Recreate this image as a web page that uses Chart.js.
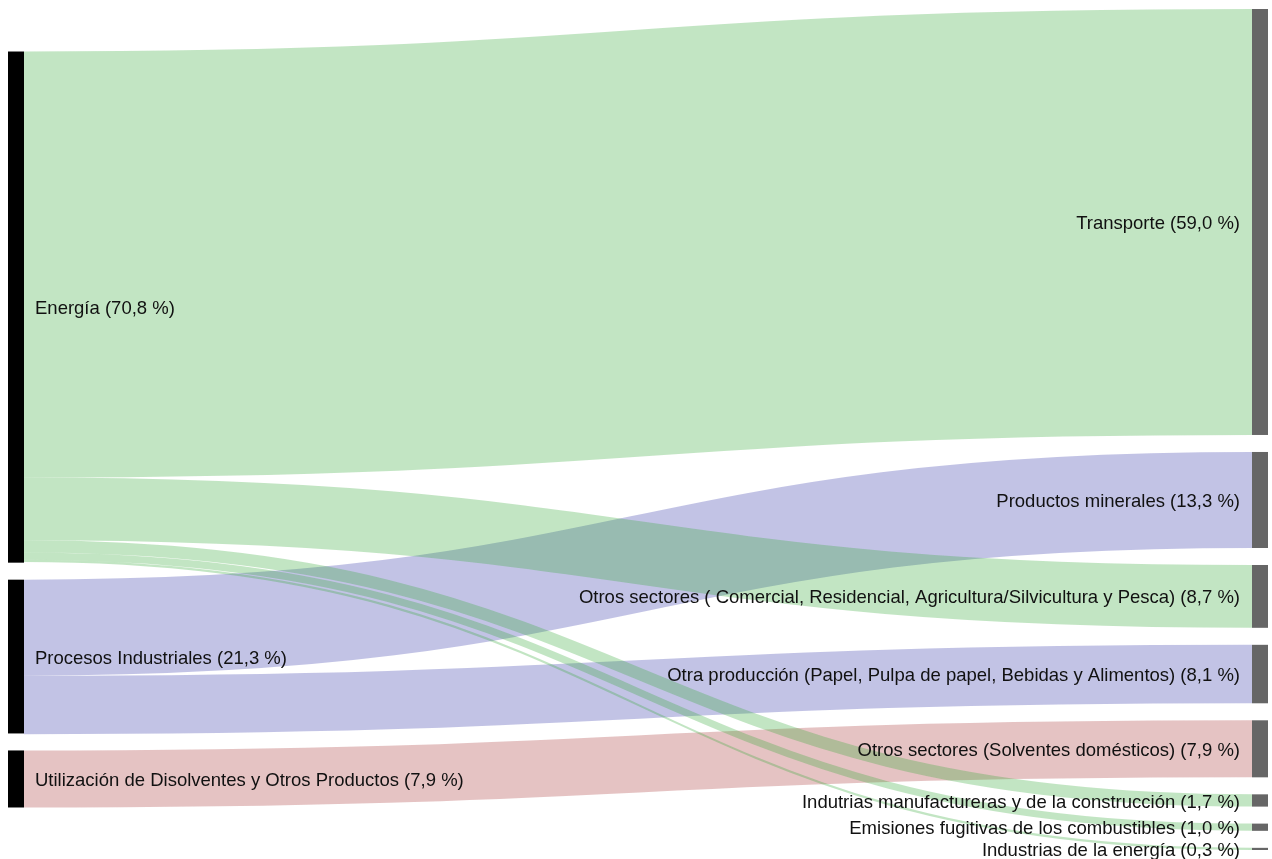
<!DOCTYPE html>
<html>
<head>
<meta charset="utf-8">
<script src="https://cdn.jsdelivr.net/npm/chart.js@4/dist/chart.umd.min.js"></script>
<style>
  html, body { margin: 0; padding: 0; background: #fff; }
  #wrap { width: 1272px; height: 859px; position: relative; }
</style>
</head>
<body>
<div id="wrap"><canvas id="c"></canvas></div>
<script>
// ---- data ----
const sourceLabels = ['Energía (70,8 %)', 'Procesos Industriales (21,3 %)', 'Utilización de Disolventes y Otros Productos (7,9 %)'];
const sourceValues = [70.8, 21.3, 7.9];
const targetLabels = [
  'Transporte (59,0 %)',
  'Productos minerales (13,3 %)',
  'Otros sectores ( Comercial, Residencial, Agricultura/Silvicultura y Pesca) (8,7 %)',
  'Otra producción (Papel, Pulpa de papel, Bebidas y Alimentos) (8,1 %)',
  'Otros sectores (Solventes domésticos) (7,9 %)',
  'Indutrias manufactureras y de la construcción (1,7 %)',
  'Emisiones fugitivas de los combustibles (1,0 %)',
  'Industrias de la energía (0,3 %)'
];
const targetValues = [59.0, 13.3, 8.7, 8.1, 7.9, 1.7, 1.0, 0.3];
// one link per target: source index of each target
const linkSource = [0, 1, 0, 1, 2, 0, 0, 0];
const linkValue  = [59.0, 13.3, 8.7, 8.1, 7.9, 1.7, 1.0, 0.3];
const sourceColors = ['rgba(52,168,55,0.3)', 'rgba(52,55,168,0.3)', 'rgba(168,55,55,0.3)'];

// ---- layout constants (style) ----
const GAP = 2.355;          // gap between nodes, in value units
const NODE_W = 16;          // node width in px
const LABEL_OFF = 11;       // label offset from node in px
const FONT = '18.5px "Liberation Sans", Arial, Helvetica, sans-serif';

const rightSpan = targetValues.reduce((a, b) => a + b, 0) + GAP * (targetValues.length - 1);
const leftSpan = sourceValues.reduce((a, b) => a + b, 0) + GAP * (sourceValues.length - 1);
const ySpan = Math.max(leftSpan, rightSpan);

function stackPositions(values) {
  const total = values.reduce((a, b) => a + b, 0) + GAP * (values.length - 1);
  let y = (ySpan - total) / 2;
  return values.map(v => { const p = [y, y + v]; y += v + GAP; return p; });
}
const srcPos = stackPositions(sourceValues);
const tgtPos = stackPositions(targetValues);

const sankeyPlugin = {
  id: 'sankey',
  afterDatasetsDraw(chart) {
    const ctx = chart.ctx;
    const xs = chart.scales.x, ys = chart.scales.y;
    const xL = xs.getPixelForValue(0), xR = xs.getPixelForValue(1);
    const x0 = xL + NODE_W, x1 = xR - NODE_W, xm = (x0 + x1) / 2;
    const srcOffset = srcPos.map(p => p[0]);
    ctx.save();
    // links
    for (let i = 0; i < linkValue.length; i++) {
      const s = linkSource[i];
      const v = linkValue[i];
      const sy = srcOffset[s] + v / 2;
      srcOffset[s] += v;
      const ty = tgtPos[i][0] + v / 2;
      const py0 = ys.getPixelForValue(sy), py1 = ys.getPixelForValue(ty);
      const w = Math.abs(ys.getPixelForValue(v) - ys.getPixelForValue(0));
      ctx.beginPath();
      ctx.moveTo(x0, py0);
      ctx.bezierCurveTo(xm, py0, xm, py1, x1, py1);
      ctx.lineWidth = Math.max(1, w);
      ctx.lineCap = 'butt';
      ctx.strokeStyle = sourceColors[s];
      ctx.stroke();
    }
    // nodes
    ctx.fillStyle = '#000';
    srcPos.forEach(p => {
      const a = ys.getPixelForValue(p[0]), b = ys.getPixelForValue(p[1]);
      ctx.fillRect(xL, a, NODE_W, b - a);
    });
    ctx.fillStyle = '#666';
    tgtPos.forEach(p => {
      const a = ys.getPixelForValue(p[0]), b = ys.getPixelForValue(p[1]);
      ctx.fillRect(xR - NODE_W, a, NODE_W, Math.max(1.5, b - a));
    });
    // labels
    ctx.font = FONT;
    ctx.fillStyle = '#111';
    ctx.textBaseline = 'middle';
    ctx.textAlign = 'left';
    srcPos.forEach((p, i) => {
      ctx.fillText(sourceLabels[i], x0 + LABEL_OFF, ys.getPixelForValue((p[0] + p[1]) / 2) + 2);
    });
    ctx.textAlign = 'right';
    tgtPos.forEach((p, i) => {
      ctx.fillText(targetLabels[i], x1 - LABEL_OFF - 1, ys.getPixelForValue((p[0] + p[1]) / 2) + 2);
    });
    ctx.restore();
  }
};

new Chart(document.getElementById('c'), {
  type: 'scatter',
  data: { datasets: [{ data: [], showLine: false }] },
  options: {
    responsive: true,
    maintainAspectRatio: false,
    animation: false,
    events: [],
    layout: { padding: { top: 9, bottom: 9, left: 8, right: 4 } },
    plugins: { legend: { display: false }, tooltip: { enabled: false }, title: { display: false } },
    scales: {
      x: { type: 'linear', min: 0, max: 1, display: false },
      y: { type: 'linear', min: 0, max: ySpan, reverse: true, display: false }
    }
  },
  plugins: [sankeyPlugin]
});
</script>
</body>
</html>
